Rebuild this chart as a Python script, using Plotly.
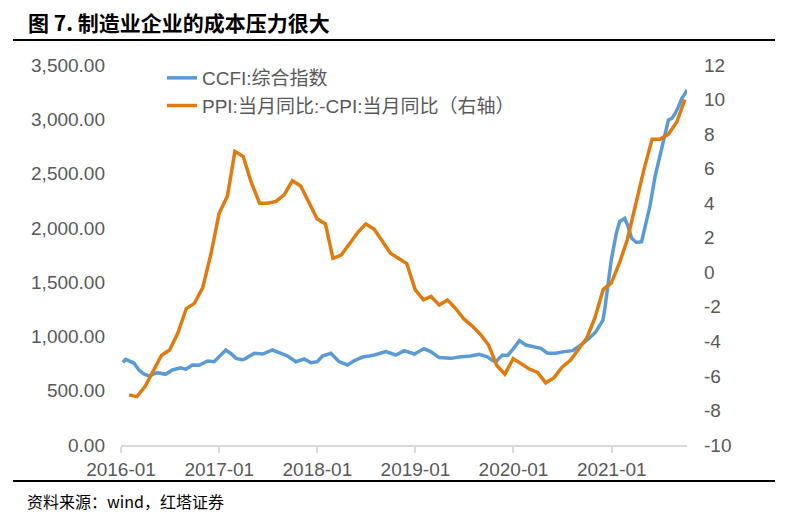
import pandas as pd
import plotly.graph_objects as go

# ---- data ----
months = pd.date_range("2016-01", periods=69, freq="MS").strftime("%Y-%m").tolist()
ppi_minus_cpi = [
    -7.1, -7.2, -6.6, -5.7, -4.8, -4.5, -3.5, -2.1, -1.8, -0.9, 1.0, 3.4,
    4.4, 7.0, 6.7, 5.2, 4.0, 4.0, 4.1, 4.5, 5.3, 5.0, 4.1, 3.1,
    2.8, 0.8, 1.0, 1.6, 2.3, 2.8, 2.5, 1.8, 1.1, 0.8, 0.5, -1.0,
    -1.6, -1.4, -1.9, -1.6, -2.1, -2.7, -3.1, -3.6, -4.2, -5.4, -5.9, -5.0,
    -5.3, -5.6, -5.8, -6.4, -6.1, -5.5, -5.1, -4.4, -3.8, -2.6, -1.0, -0.6,
    0.6, 1.9, 4.0, 5.9, 7.7, 7.7, 8.0, 8.7, 10.0,
]

ccfi_dates = [
    "2016-01-08", "2016-01-18", "2016-02-18", "2016-03-08", "2016-03-26", "2016-04-14",
    "2016-05-15", "2016-06-15", "2016-07-10", "2016-08-10", "2016-08-29", "2016-09-23",
    "2016-10-18", "2016-11-18", "2016-12-13", "2017-01-06", "2017-01-25", "2017-02-13",
    "2017-03-04", "2017-03-28", "2017-04-10", "2017-05-11", "2017-06-11", "2017-07-18",
    "2017-08-12", "2017-09-12", "2017-10-13", "2017-11-13", "2017-12-08", "2018-01-01",
    "2018-01-20", "2018-02-20", "2018-03-23", "2018-04-23", "2018-05-18", "2018-06-18",
    "2018-07-13", "2018-08-01", "2018-09-13", "2018-10-20", "2018-11-20", "2018-12-28",
    "2019-02-02", "2019-02-27", "2019-03-30", "2019-05-13", "2019-06-19", "2019-07-26",
    "2019-08-26", "2019-09-26", "2019-10-15", "2019-10-27", "2019-11-21", "2019-12-10",
    "2019-12-28", "2020-01-23", "2020-02-16", "2020-03-12", "2020-04-12", "2020-05-07",
    "2020-06-07", "2020-07-08", "2020-08-08", "2020-09-08", "2020-10-09", "2020-11-03",
    "2020-11-16", "2020-11-29", "2020-12-05", "2020-12-18", "2020-12-30", "2021-01-18",
    "2021-01-30", "2021-02-18", "2021-03-03", "2021-03-16", "2021-04-03", "2021-04-22",
    "2021-05-04", "2021-05-23", "2021-06-11", "2021-06-29", "2021-07-12", "2021-07-31",
    "2021-08-13", "2021-08-25", "2021-09-06", "2021-09-19", "2021-10-01", "2021-10-08",
]
ccfi_values = [
    760, 789, 755, 690, 654, 636,
    666, 651, 691, 712, 697, 737,
    735, 774, 767, 829, 875, 843,
    798, 785, 798, 845, 838, 875,
    850, 820, 767, 792, 758, 767,
    820, 845, 767, 737, 776, 810,
    820, 829, 860, 829, 869, 838,
    888, 860, 805, 798, 813, 820,
    835, 813, 778, 767, 829, 825,
    875, 961, 921, 906, 890, 845,
    845, 860, 869, 921, 983, 1044,
    1100, 1150, 1235, 1489, 1704, 1950,
    2057, 2088, 2011, 1904, 1865, 1873,
    2000, 2200, 2471, 2655, 2809, 2994,
    3009, 3054, 3116, 3193, 3239, 3270,
]

left_ticks = [0, 500, 1000, 1500, 2000, 2500, 3000, 3500]
right_ticks = [-10, -8, -6, -4, -2, 0, 2, 4, 6, 8, 10, 12]

# monthly observations are dated at month end
ppi_dates = (pd.to_datetime(months) + pd.offsets.MonthEnd(0)).tolist()

BLUE = "#5B9BD5"
ORANGE = "#E17B0F"
GREY = "#595959"
FONT = "Liberation Sans, Arial, Noto Sans CJK SC, sans-serif"

# page body has an 8px margin: figure is laid out 8px smaller
W, H = 780, 510
L, R, T, B = 113, 101, 57, 73
PW, PH = W - L - R, H - T - B


def px(xp):  # page x -> paper
    return (xp - 8 - L) / PW


def py(yp):  # page y -> paper
    return (H - B - (yp - 8)) / PH


fig = go.Figure()
fig.add_trace(go.Scatter(
    x=pd.to_datetime(ccfi_dates), y=ccfi_values, mode="lines",
    name="CCFI:综合指数", line=dict(color=BLUE, width=3.5),
    yaxis="y", legendgroup="a",
))
fig.add_trace(go.Scatter(
    x=ppi_dates, y=ppi_minus_cpi, mode="lines",
    name="PPI:当月同比:-CPI:当月同比（右轴）", line=dict(color=ORANGE, width=3.5),
    yaxis="y2", legendgroup="b",
))

fig.update_layout(
    width=W, height=H,
    margin=dict(l=L, r=R, t=T, b=B),
    paper_bgcolor="white", plot_bgcolor="white",
    font=dict(family=FONT, size=19, color=GREY),
    showlegend=True,
    legend=dict(
        x=px(162), y=py(59), xanchor="left", yanchor="top",
        bgcolor="rgba(0,0,0,0)", font=dict(size=19, color=GREY),
        tracegroupgap=5, traceorder="normal",
    ),
    xaxis=dict(
        type="date",
        range=["2016-01-01", "2021-10-08"],
        tick0="2016-01-01", dtick="M12", tickformat="%Y-%m",
        showgrid=False, showline=True, linecolor="#D9D9D9", linewidth=2,
        ticks="outside", ticklen=6, tickcolor="#D9D9D9", tickwidth=1.5,
        tickfont=dict(size=19, color=GREY), zeroline=False,
    ),
    yaxis=dict(
        range=[0, 3500], tickvals=left_ticks, tickformat=",.2f",
        showgrid=False, showline=False, zeroline=False, ticks="",
        tickfont=dict(size=19, color=GREY), ticklabelstandoff=15,
    ),
    yaxis2=dict(
        range=[-10, 12], tickvals=right_ticks,
        ticktext=[str(v) for v in right_ticks],
        overlaying="y", side="right",
        showgrid=False, showline=False, zeroline=False, ticks="",
        tickfont=dict(size=19, color=GREY), ticklabelstandoff=16,
    ),
    shapes=[
        dict(type="line", xref="paper", yref="paper",
             x0=px(13), x1=px(775), y0=py(40), y1=py(40),
             line=dict(color="black", width=2)),
        dict(type="line", xref="paper", yref="paper",
             x0=px(13), x1=px(775), y0=py(481), y1=py(481),
             line=dict(color="black", width=2)),
    ],
    annotations=[
        dict(text="<b>图 7. 制造业企业的成本压力很大</b>", xref="paper", yref="paper",
             x=px(26), y=py(22), xanchor="left", yanchor="middle",
             showarrow=False, font=dict(family="Noto Sans CJK SC, sans-serif", size=21, color="black")),
        dict(text="资料来源：wind，红塔证券", xref="paper", yref="paper",
             x=px(25), y=py(501), xanchor="left", yanchor="middle",
             showarrow=False, font=dict(family="Noto Sans CJK SC, sans-serif", size=16, color="black")),
    ],
)

fig.write_html("out.html")
